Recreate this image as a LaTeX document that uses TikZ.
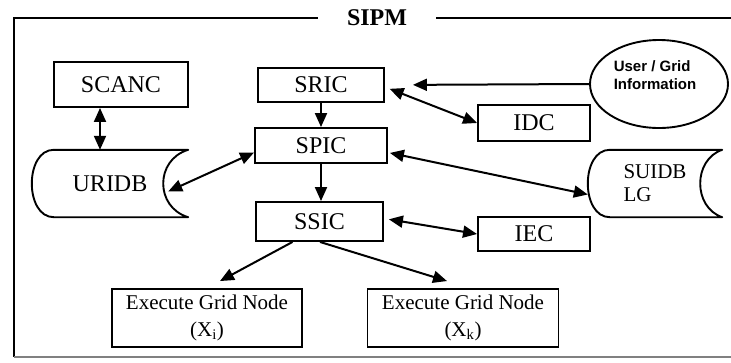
\documentclass[tikz,border=0pt]{standalone}
\usepackage{fontspec}
\setmainfont{Liberation Serif}
\newfontfamily\infofont{Liberation Sans}
\usetikzlibrary{arrows.meta,shapes.geometric}
\newcommand{\boxfont}{\fontsize{24}{28}\selectfont}
\newcommand{\execfont}{\fontsize{21}{27}\selectfont}
\newcommand{\storefont}{\fontsize{21}{23}\selectfont}
% outline of a stored-data symbol round a node: #2 left inset, #3 right dip
\newcommand{\datastore}[3]{%
  \draw[outline] ([xshift=#2pt]#1.north west) -- (#1.north east)
    .. controls ([xshift=-4/3*#3pt,yshift=-10pt]#1.north east) and ([xshift=-4/3*#3pt,yshift=10pt]#1.south east) .. (#1.south east)
    -- ([xshift=#2pt]#1.south west)
    .. controls ([xshift=-#2pt/3]#1.south west) and ([xshift=-#2pt/3]#1.north west) .. ([xshift=#2pt]#1.north west)
    -- cycle;}

\begin{document}
\begin{tikzpicture}[
		x=1pt, y=-1pt,
		box/.style={rectangle,draw=black,line width=1.9pt,inner sep=0pt,font=\boxfont},
		store/.style={rectangle,inner sep=0pt},
		outline/.style={draw=black,line width=1.9pt,line join=round},
		flow/.style={>={Triangle[length=14pt,width=12pt]},line width=2pt}
		]
		\useasboundingbox (0,0) rectangle (731,362);
		% frame and title
		\node[font=\bfseries\boxfont, inner xsep=29pt, inner ysep=0pt] (title) at (377,18) {SIPM};
		\draw[line width=2.8pt] (title.west) -- (14,18) -- (14,357);
		\draw[line width=2.8pt] (title.east) -- (731,18);
		\draw[line width=2pt, black!50] (14,357) -- (731,357);
		% boxes
		\node[box, minimum width=134pt, minimum height=45pt] (scanc) at (121,84.5) {SCANC};
		\node[box, minimum width=126pt, minimum height=34pt] (sric) at (321,85) {SRIC};
		\node[box, minimum width=132pt, minimum height=35pt] (spic) at (321,145.5) {SPIC};
		\node[box, minimum width=127pt, minimum height=39pt] (ssic) at (319.5,221.5) {SSIC};
		\node[box, minimum width=112pt, minimum height=36pt] (idc) at (534,123) {IDC};
		\node[box, minimum width=112pt, minimum height=34pt] (iec) at (534,234) {IEC};
		\node[box, minimum width=190pt, minimum height=58pt, font=\execfont, align=center] (exi) at (207,318)
			{Execute Grid Node\\(X\textsubscript{i})};
		\node[box, minimum width=191pt, minimum height=58pt, font=\execfont, align=center] (exk) at (463,318)
			{Execute Grid Node\\(X\textsubscript{k})};
		% user / grid information
		\node[ellipse, draw=black, line width=1.9pt, minimum width=138pt, minimum height=88pt, inner sep=0pt] (info) at (659,84) {};
		\node[font=\infofont\bfseries\fontsize{15}{18}\selectfont, align=left, inner sep=0pt] (infotext) at (655,75)
			{User / Grid\\Information};
		% data stores
		\node[store, minimum width=156pt, minimum height=67pt, font=\boxfont] (uridb) at (110,183.5) {URIDB};
		\node[store, minimum width=134pt, minimum height=67pt, font=\storefont, align=left] (suidb) at (655,183.5) {SUIDB\\LG};
		\datastore{uridb}{22}{25}
		\datastore{suidb}{22}{22}
		% connectors
		\draw[flow, <->] ([xshift=-21pt]scanc.south) -- ([xshift=-10pt]uridb.north);
		\draw[flow, ->] (sric) -- (spic);
		\draw[flow, ->] (spic.south) -- (spic.south |- ssic.north);
		\draw[flow, ->, shorten >=28pt] (info.west) -- (sric.east);
		\draw[flow, <->, shorten <=5pt] ([yshift=-2pt]sric.east) -- (idc.west);
		\draw[flow, <->] ([yshift=-7pt]spic.west) -- ([xshift=-20pt,yshift=-8pt]uridb.east);
		\draw[flow, <->, shorten <=2pt] ([yshift=-7pt]spic.east) -- ([yshift=-11pt]suidb.west);
		\draw[flow, <->, shorten <=5pt] ([yshift=3pt]ssic.east) -- (iec.west);
		\draw[flow, ->] ([xshift=-27pt]ssic.south) -- ([xshift=13pt,yshift=7pt]exi.north);
		\draw[flow, ->] ([xshift=0.5pt]ssic.south) -- ([xshift=-16pt,yshift=7pt]exk.north);
\end{tikzpicture}
\end{document}
